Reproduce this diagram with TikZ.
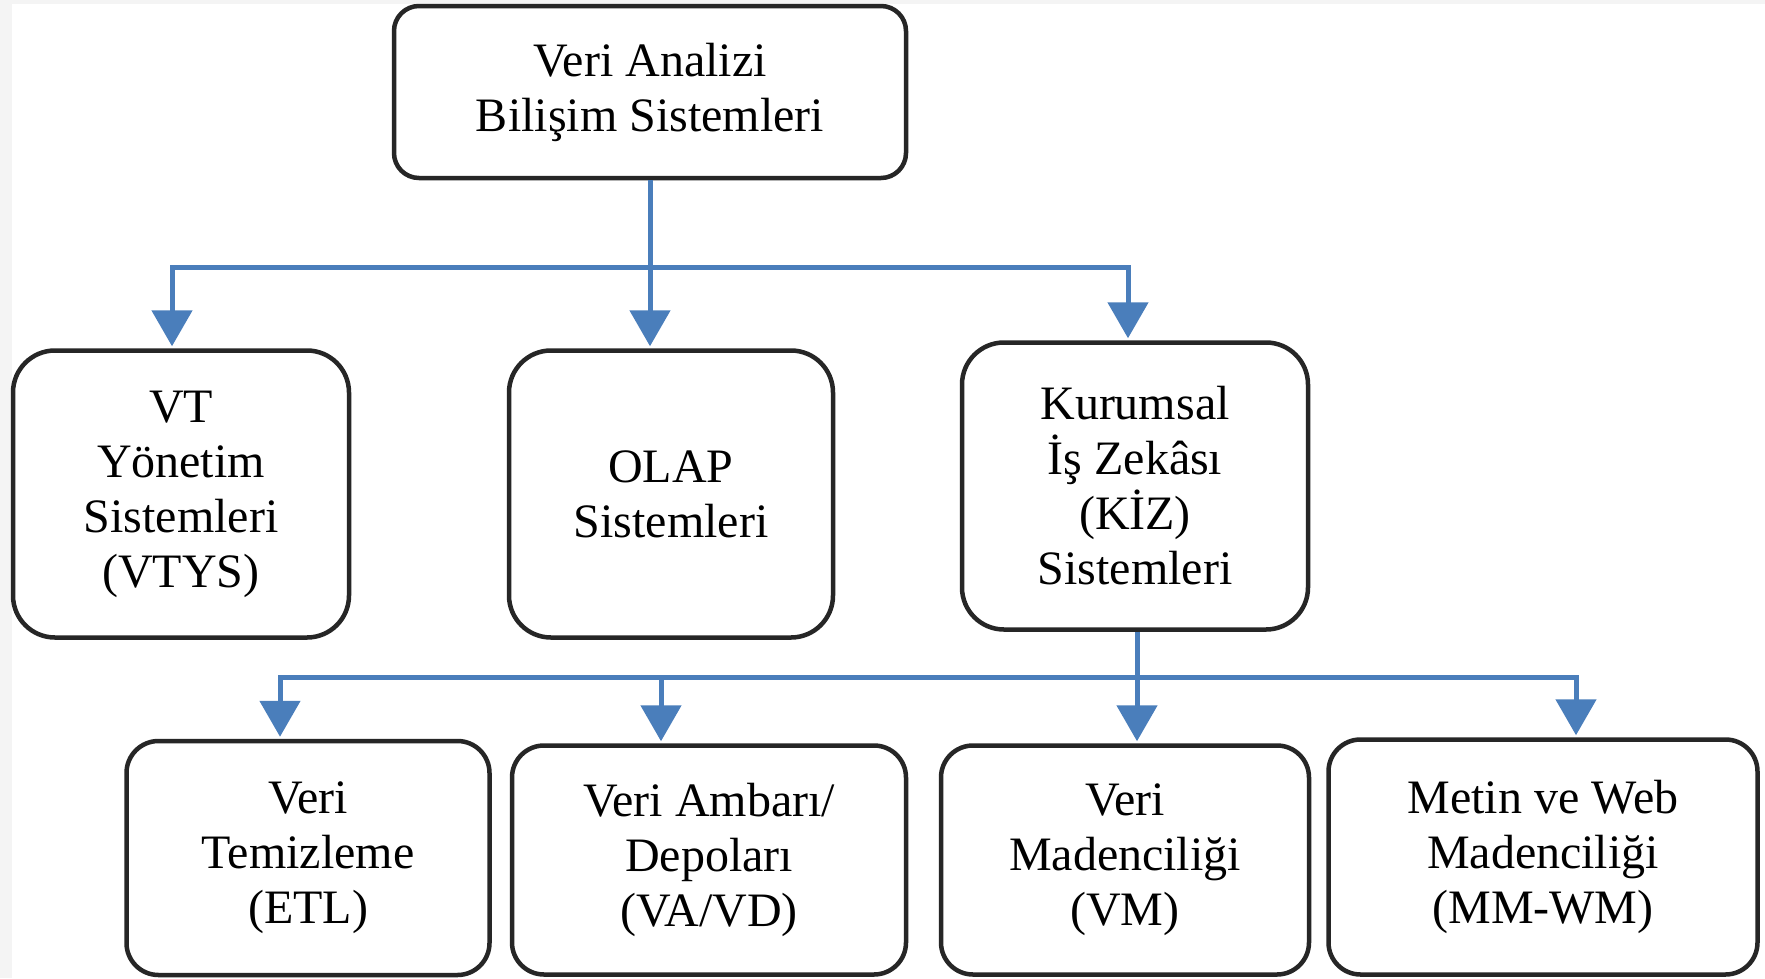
\documentclass[tikz,border=0pt]{standalone}
\usepackage{fontspec}
\setmainfont{Liberation Serif}
\usetikzlibrary{arrows.meta}
\definecolor{linkblue}{HTML}{4A7EBB}
\definecolor{boxline}{HTML}{262626}
\definecolor{pagegray}{HTML}{F4F4F4}

\begin{document}
\begin{tikzpicture}[x=1pt,y=-1pt,
  box/.style={draw=boxline, line width=4.5pt, fill=white, align=center,
    font=\fontsize{48}{55}\selectfont, inner sep=0pt},
  link/.style={draw=linkblue, line width=5pt, line join=miter},
  arrowlink/.style={link, -{Triangle[width=40pt,length=36pt]}, shorten >=2pt}]

% page and frame
\useasboundingbox (0,0) rectangle (1765,978);
\fill[pagegray] (0,0) rectangle (1765,978);
\fill[white] (12,4) rectangle (1765,978);

% top level
\node[box, rounded corners=25pt, minimum width=512pt, minimum height=172pt]
  (top) at (650,92) {Veri Analizi\\Bilişim Sistemleri};

% second level
\node[box, rounded corners=42pt, minimum width=336pt, minimum height=287pt]
  (vtys) at (181,494) {VT\\Yönetim\\Sistemleri\\(VTYS)};
\node[box, rounded corners=42pt, minimum width=324pt, minimum height=287pt]
  (olap) at (671,494) {OLAP\\Sistemleri};
\node[box, rounded corners=42pt, minimum width=346pt, minimum height=287pt]
  (kiz) at (1135,486) {Kurumsal\\İş Zekâsı\\(KİZ)\\Sistemleri};

% third level
\node[box, rounded corners=32pt, minimum width=363pt, minimum height=234pt]
  (etl) at (308,858) {Veri\\Temizleme\\(ETL)};
\node[box, rounded corners=32pt, minimum width=394pt, minimum height=229pt]
  (vavd) at (709,860) {Veri Ambarı/\\Depoları\\(VA/VD)};
\node[box, rounded corners=32pt, minimum width=368pt, minimum height=229pt]
  (vm) at (1125,860) {Veri\\Madenciliği\\(VM)};
\node[box, rounded corners=32pt, minimum width=429pt, minimum height=235pt]
  (mm) at (1543,857) {Metin ve Web\\Madenciliği\\(MM-WM)};

% upper bus
\coordinate (bus1) at (650,267);
\draw[arrowlink] (top.south) -- (bus1) -| ([xshift=-9pt]vtys.north);
\draw[arrowlink] (bus1) -| ([xshift=-7pt]kiz.north);
\draw[arrowlink] (top.south) -- ([xshift=-21pt]olap.north);

% lower bus
\coordinate (bus2) at (1137,677);
\draw[arrowlink] ([xshift=2pt]kiz.south) -- ([xshift=12pt]vm.north);
\draw[arrowlink] (bus2) -| ([xshift=-28pt]etl.north);
\draw[arrowlink] (bus2) -| ([xshift=-48pt]vavd.north);
\draw[arrowlink] (bus2) -| ([xshift=33pt]mm.north);
\end{tikzpicture}
\end{document}
